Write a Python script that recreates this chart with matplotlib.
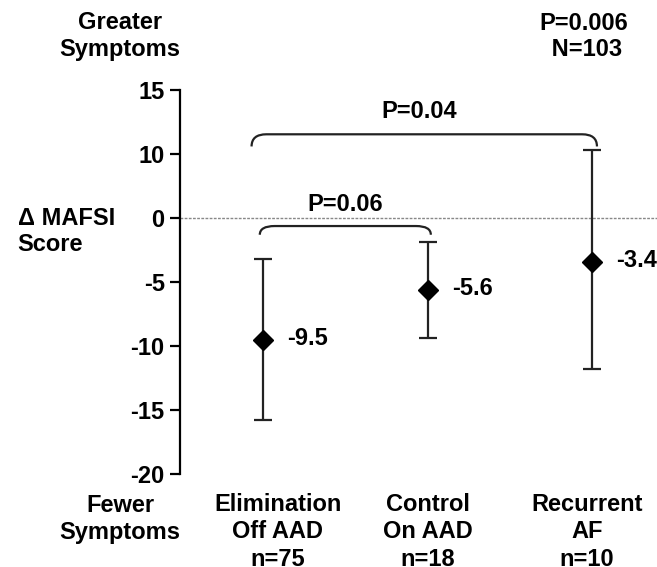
import matplotlib
matplotlib.use("Agg")
import matplotlib.pyplot as plt
from matplotlib.path import Path
from matplotlib.patches import PathPatch

plt.rcParams.update({
    "font.family": ["Liberation Sans", "DejaVu Sans"],
    "font.weight": "bold",
    "font.size": 17,
})

# --- data ---
groups = ["Elimination\nOff AAD\nn=75", "Control\nOn AAD\nn=18", "Recurrent\nAF\nn=10"]
means = [-9.5, -5.6, -3.4]
lower = [-15.8, -9.4, -11.8]
upper = [-3.2, -1.9, 5.3]
mean_labels = ["-9.5", "-5.6", "-3.4"]

# axis ticks as printed in the original (no "5" label; top two are shifted)
ytick_pos = [10, 5, 0, -5, -10, -15, -20]
ytick_lab = ["15", "10", "0", "-5", "-10", "-15", "-20"]

# comparison brackets: (x start, x end, top, end height, label)
brackets = [
    (0.93, 3.03, 6.55, 5.6, "P=0.04"),
    (0.98, 2.02, -0.62, -1.3, "P=0.06"),
]

x = [1, 2, 3]

fig = plt.figure(figsize=(6.57, 5.67), dpi=100)
ax = fig.add_axes([0.274, 0.164, 0.726, 0.677])

yerr = [[m - lo for m, lo in zip(means, lower)],
        [up - m for m, up in zip(means, upper)]]
ax.errorbar(x, means, yerr=yerr, fmt="D", color="black", ecolor="#222222",
            elinewidth=1.6, capsize=6.5, capthick=1.6, markersize=10, zorder=3)

for xi, m, lab in zip(x, means, mean_labels):
    ax.annotate(lab, (xi, m), xytext=(17.5, 1), textcoords="offset points",
                ha="left", va="center")

ax.axhline(0, color="#888888", lw=1, ls=(0, (2, 1)), zorder=1)


def bracket(x0, x1, ytop, yend, r=0.09):
    verts = [(x0, yend), (x0, ytop), (x0 + r, ytop), (x1 - r, ytop),
             (x1, ytop), (x1, yend)]
    codes = [Path.MOVETO, Path.CURVE3, Path.CURVE3, Path.LINETO,
             Path.CURVE3, Path.CURVE3]
    ax.add_patch(PathPatch(Path(verts, codes), fc="none", ec="#222222",
                           lw=1.6, clip_on=False))


for x0, x1, yt, ye, lab in brackets:
    bracket(x0, x1, yt, ye)
ax.text(1.95, 8.3, "P=0.04", ha="center", va="center")
ax.text(1.5, 1.1, "P=0.06", ha="center", va="center")
ax.text(2.95, 14.2, "P=0.006\n N=103", ha="center", va="center",
        linespacing=1.15)

ax.set_xlim(0.495, 3.395)
ax.set_ylim(-20, 10)
ax.set_yticks(ytick_pos)
ax.set_yticklabels(ytick_lab)
ax.set_xticks([])
for s in ["top", "right", "bottom"]:
    ax.spines[s].set_visible(False)
ax.spines["left"].set_linewidth(1.6)
ax.tick_params(axis="y", length=7, width=1.6, pad=4)

label_dx = [0.09, 0.0, -0.03]
for xi, g, dx in zip(x, groups, label_dx):
    ax.text(xi + dx, -21.45, g, ha="center", va="top", linespacing=1.26)

fig.text(0.183, 0.937, "Greater\nSymptoms", ha="center", va="center",
         linespacing=1.2)
fig.text(0.027, 0.592, "\u0394 MAFSI\nScore", ha="left", va="center",
         linespacing=1.15)
fig.text(0.183, 0.085, "Fewer\nSymptoms", ha="center", va="center",
         linespacing=1.2)

fig.savefig("out.png", dpi=100, facecolor="white")
